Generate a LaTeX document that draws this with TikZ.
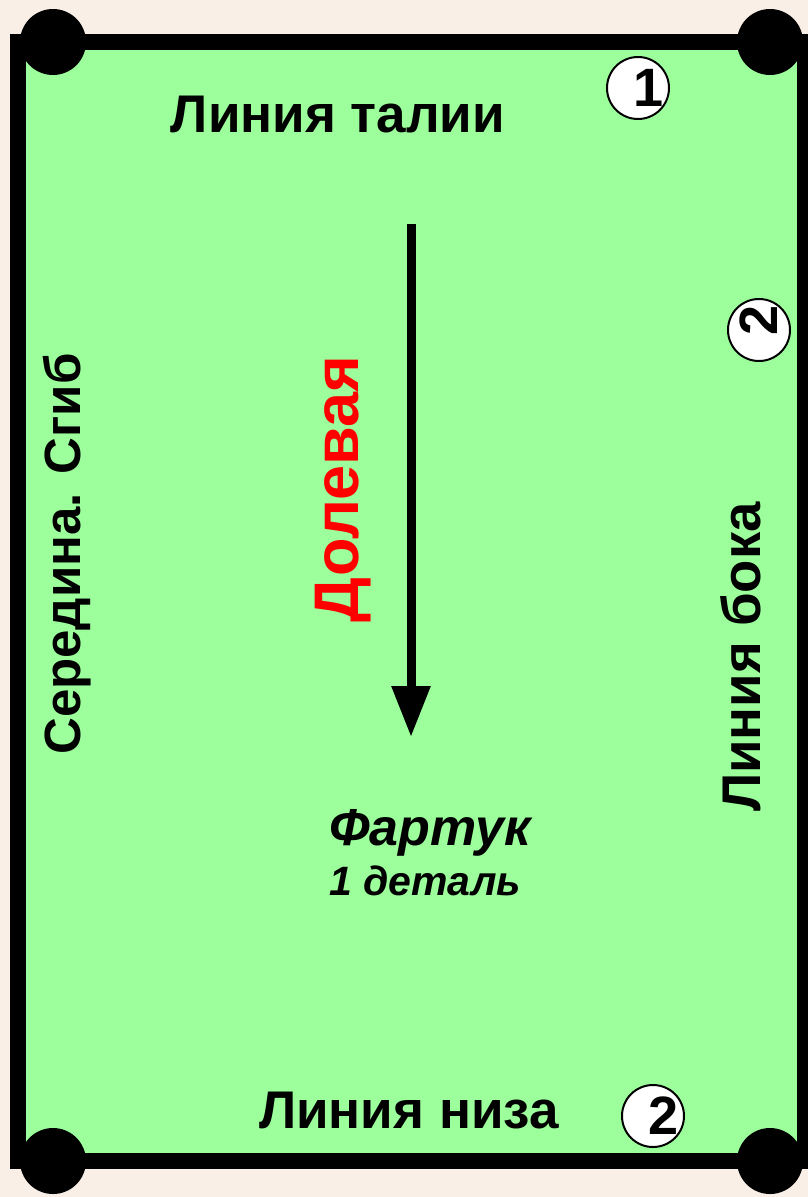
\documentclass[tikz,border=0pt]{standalone}
\usepackage{fontspec}
\setmainfont{Liberation Sans}
\usetikzlibrary{arrows.meta}
\definecolor{bgcol}{HTML}{FAEFE7}
\definecolor{panelcol}{HTML}{9CFF9C}
\definecolor{redtxt}{HTML}{FF0000}
\tikzset{
  bigtxt/.style={font=\fontsize{53}{60}\selectfont\bfseries, inner sep=0pt, anchor=base},
  numcirc/.style={circle, draw=black, line width=2pt, fill=white, minimum size=62pt, inner sep=0pt},
  numtxt/.style={font=\fontsize{54}{60}\selectfont\bfseries, inner sep=0pt},
  cornerdot/.style={circle, fill=black, minimum size=66pt, inner sep=0pt},
  panelbox/.style={draw=black, line width=16pt, fill=panelcol, inner sep=0pt},
}
\begin{document}
\begin{tikzpicture}[x=1pt,y=-1pt]
\useasboundingbox (0,0) rectangle (808,1197);
\fill[bgcol] (0,0) rectangle (808,1197);
% pattern panel
\node[panelbox, minimum width=787pt, minimum height=1119pt] (panel) at (411.5,601.5) {};
% corner dots
\node[cornerdot] (c1) at (53,42) {};
\node[cornerdot] (c2) at (770,42) {};
\node[cornerdot] (c3) at (53,1161) {};
\node[cornerdot] (c4) at (770,1161) {};
% grain arrow
\coordinate (atop) at (411,224);
\coordinate (atip) at (411,737);
\draw[line width=9pt, -{Triangle[length=51pt,width=37pt]}] (atop) -- (atip);
% labels
\node[bigtxt] (waist) at (338,132) {Линия талии};
\node[bigtxt] (hem) at (409,1128) {Линия низа};
\node[bigtxt, font=\fontsize{51}{60}\selectfont\bfseries, rotate=90] (fold) at (80,554) {Середина. Сгиб};
\node[bigtxt, font=\fontsize{54.5}{60}\selectfont\bfseries, rotate=90] (side) at (760,657) {Линия бока};
\node[bigtxt, font=\fontsize{63}{70}\selectfont\bfseries, rotate=90, text=redtxt] (grain) at (358,489) {Долевая};
\node[bigtxt, font=\fontsize{52}{60}\selectfont\bfseries\itshape] (title) at (430,845) {Фартук};
\node[bigtxt, font=\fontsize{41}{48}\selectfont\bfseries\itshape] (count) at (425,895) {1 деталь};
% seam numbers
\node[numcirc] (n1) at (638,88) {};
\node[numtxt] (t1) at ([xshift=11pt]n1.center) {1};
\node[numcirc] (n2) at (759,330) {};
\node[numtxt, rotate=90] (t2) at ([yshift=10pt]n2.center) {2};
\node[numcirc] (n3) at (653,1116) {};
\node[numtxt] (t3) at ([xshift=11pt]n3.center) {2};
\end{tikzpicture}
\end{document}
